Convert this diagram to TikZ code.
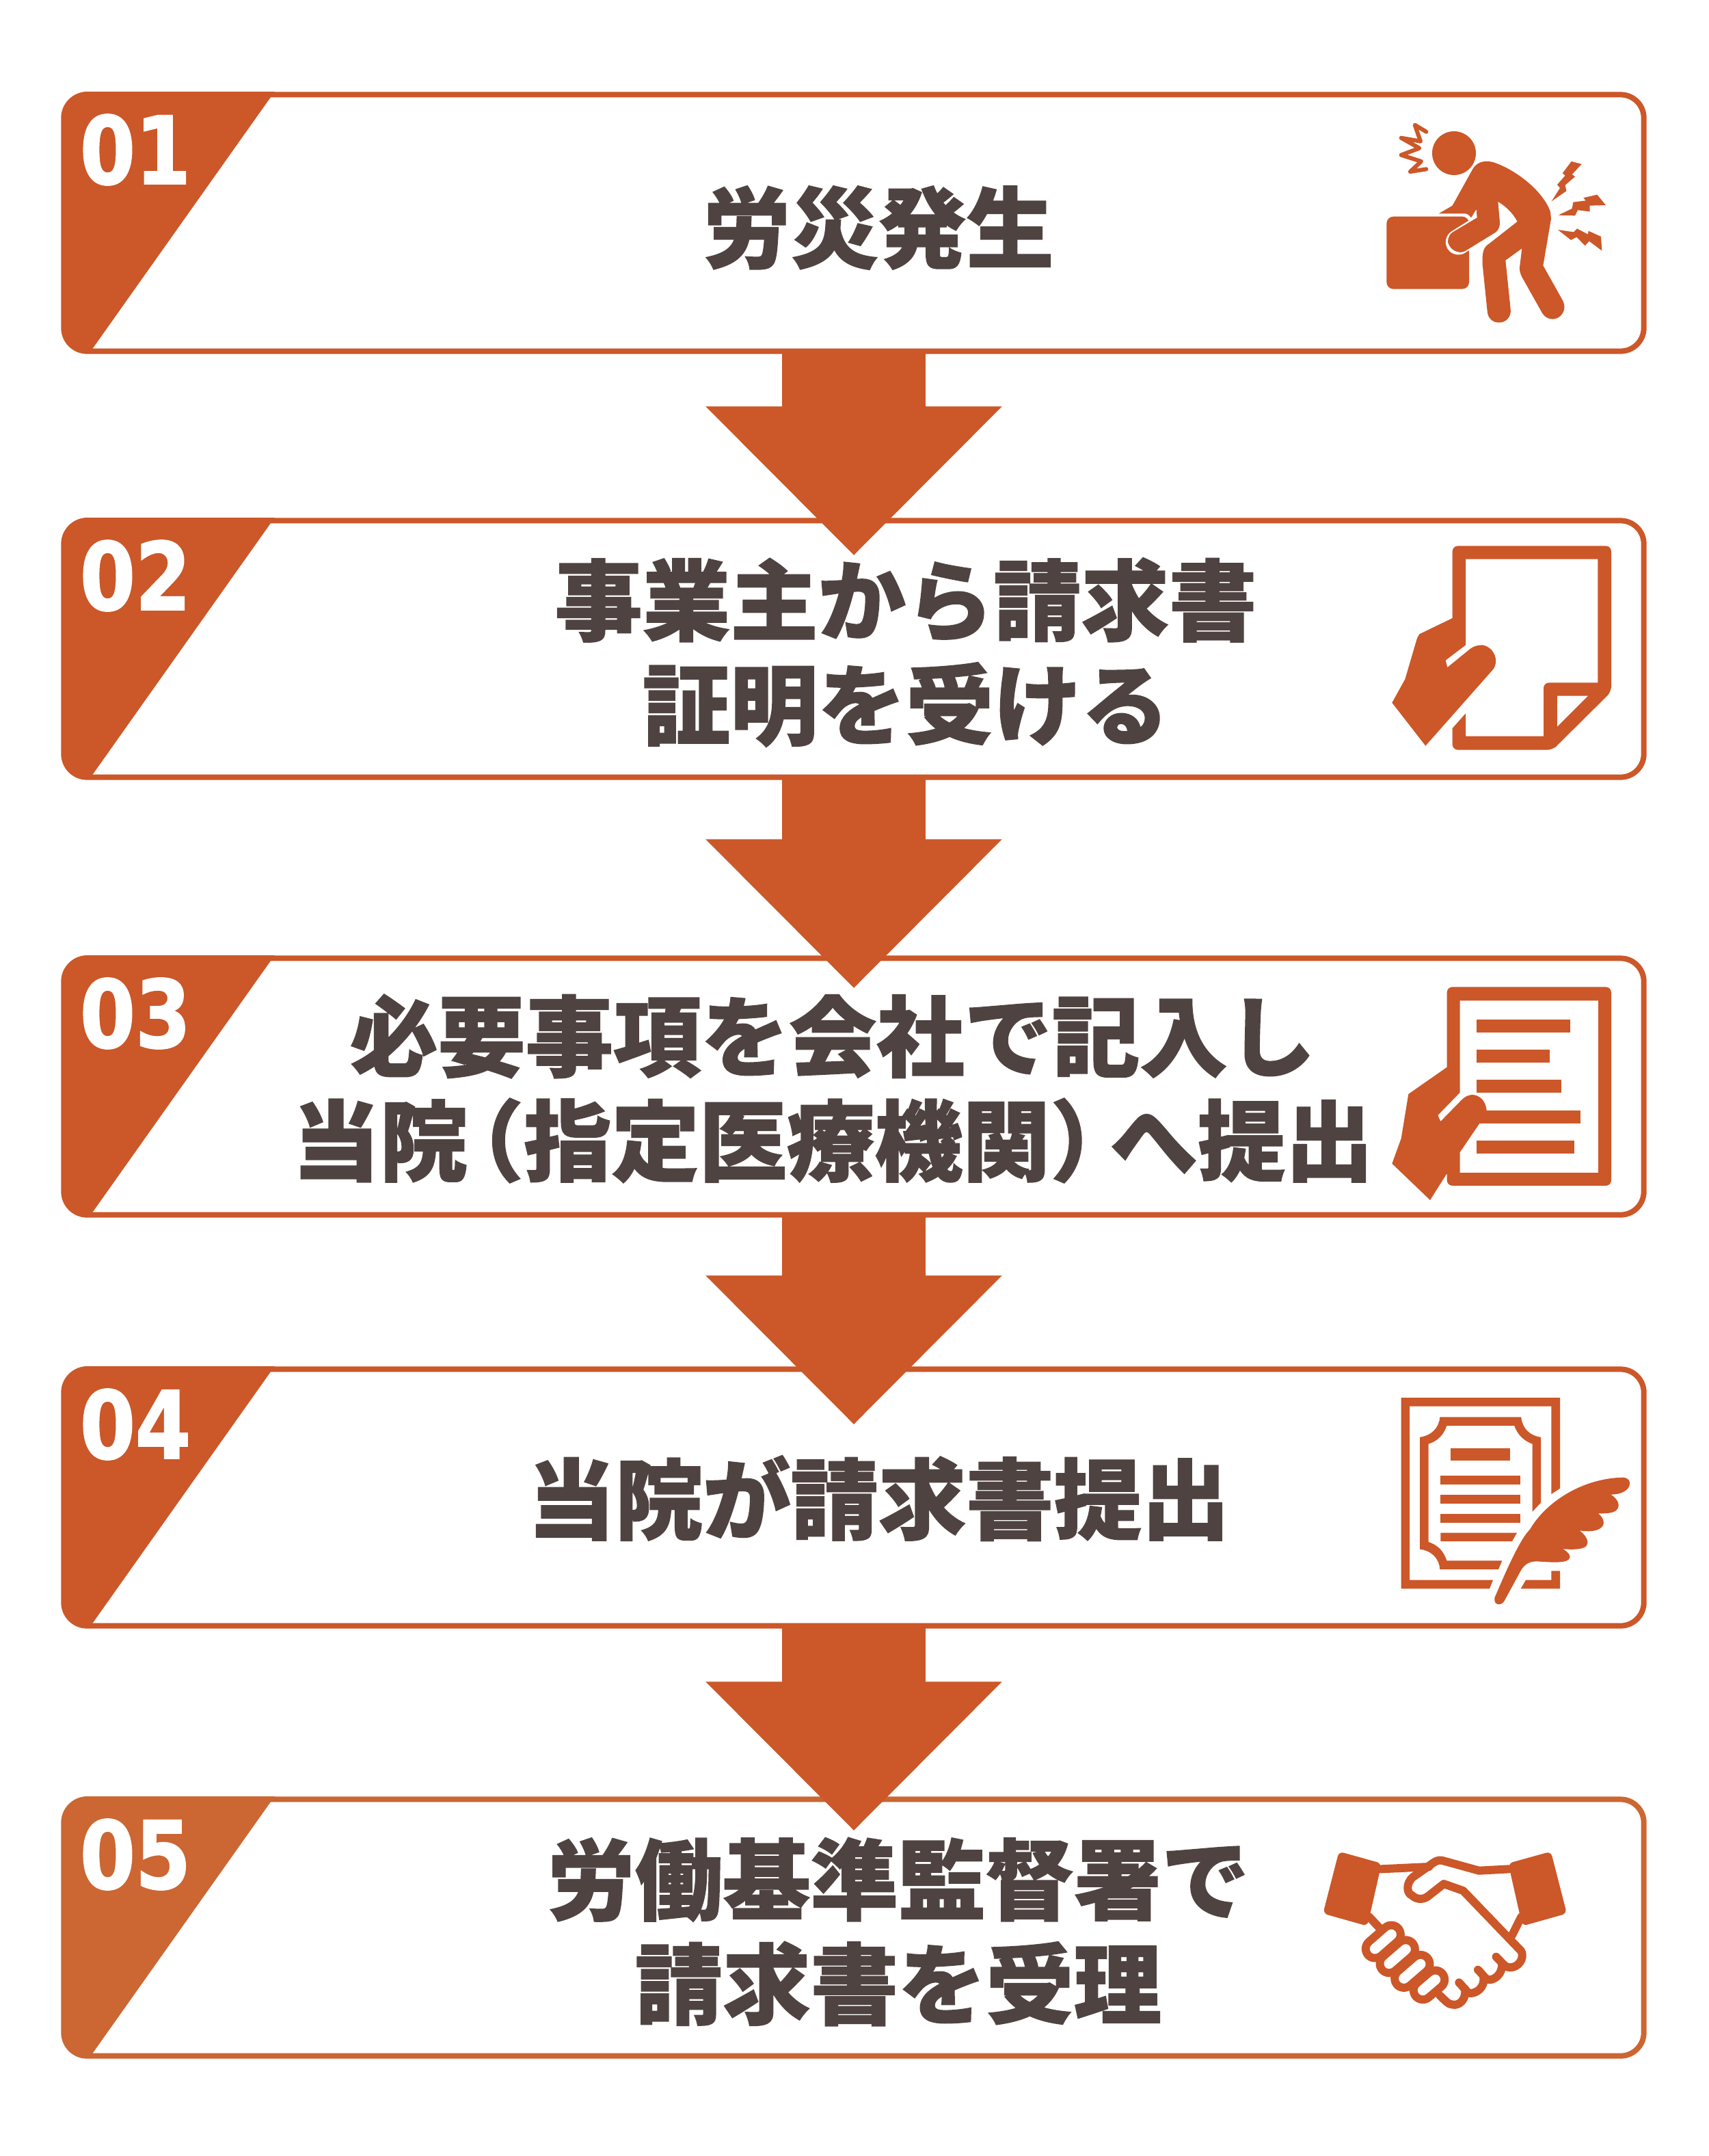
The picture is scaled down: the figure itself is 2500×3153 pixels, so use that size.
\documentclass[tikz,border=0pt]{standalone}
\usepackage{fontspec}
\usetikzlibrary{arrows.meta}
\newfontfamily\jpfont[FakeBold=1.2]{Noto Sans CJK JP Black}
\newfontfamily\numfont[FakeStretch=0.85,FakeBold=1.5]{DejaVu Sans Bold}
\definecolor{stepred}{HTML}{CC5728}
\definecolor{steplight}{HTML}{CC6632}
\definecolor{stepgray}{HTML}{4F4341}
\tikzset{
  stepbox/.style={draw, line width=.08cm, fill=white, rounded corners=.34cm, minimum width=23.1cm, minimum height=3.75cm, inner sep=0pt, outer sep=0pt},
  steplabel/.style={text=stepgray, inner sep=0pt, align=center, font=\jpfont\fontsize{36.5}{43.4}\selectfont},
  stepnum/.style={text=white, inner sep=0pt, font=\numfont\fontsize{39}{40}\selectfont},
  downarrow/.style={draw=stepred, line width=2.09cm, -{Triangle[length=2.18cm,width=4.2cm,fill=stepred]}},
  icon/.style={fill=stepred},
  iconline/.style={draw=stepred, line width=.12cm, line cap=round, line join=round}
}
\begin{document}
\begin{tikzpicture}[x=.01cm,y=-.01cm]
\useasboundingbox (0,0) rectangle (2500,3153);
\foreach \i/\y/\c in {1/134/stepred,2/757/stepred,3/1397/stepred,4/1998/stepred,5/2627/steplight}{
  \node[stepbox,draw=\c] (s\i) at (1249,\y+192) {};
  \fill[\c] (128,\y) .. controls (107,\y) and (90,\y+17) .. (90,\y+38) -- (90,\y+345) .. controls (90,\y+366) and (107,\y+383) .. (128,\y+383) -- (136,\y+375) -- (396,\y+8) -- (402,\y) -- cycle;
  \node[stepnum] (n\i) at (198,\y+85) {0\i};
}
\foreach \a/\b/\t in {1/2/.51,2/3/.44,3/4/.81,4/5/.46}{
  \draw[downarrow,shorten >=-\t cm] (s\a.south) -- (s\b.north);
}
\node[steplabel] (t1) at (1285,333) {労災発生};
\node[steplabel] (t2) at (1325,954) {事業主から請求書\\証明を受ける};
\node[steplabel] (t3) at (1218,1592) {必要事項を会社で記入し\\当院\hspace{-.36em}（指定医療機関）\hspace{-.32em}へ提出};
\node[steplabel] (t4) at (1285,2191) {当院が請求書提出};
\node[steplabel] (t5) at (1314,2825) {労働基準監督署で\\請求書を受理};
\begin{scope}[shift={(1978,150)},scale=1/3]
\fill[icon] (447,222) circle (96);
\fill[icon,rounded corners=.1cm] (151,500) rectangle (513,818);
\draw[white,line width=.37cm,line cap=round] (466,612) -- (560,553);
\fill[icon] (380,487) -- (440,452) -- (530,290) .. controls (545,265) and (575,250) .. (620,262) .. controls (720,295) and (840,390) .. (870,480) -- (873,510) -- (838,715) -- (925,870) .. controls (945,910) and (915,950) .. (880,950) .. controls (860,950) and (845,940) .. (835,925) -- (745,765) .. controls (735,745) and (733,730) .. (736,715) -- (745,640) -- (673,692) -- (695,905) .. controls (700,940) and (675,965) .. (645,965) .. controls (615,965) and (595,945) .. (593,915) -- (572,710) .. controls (570,660) and (575,635) .. (600,620) -- (725,522) .. controls (705,485) and (675,455) .. (640,435) -- (648,525) .. controls (648,550) and (640,565) .. (620,575) -- (495,652) .. controls (470,665) and (430,650) .. (420,612) .. controls (420,590) and (430,575) .. (442,568) -- (548,505) -- (545,468) -- (522,505) .. controls (510,490) and (505,487) .. (490,487) -- cycle;
\draw[iconline,line width=.06cm] (325,128) -- (275,98) -- (300,170) -- (215,155) -- (295,200) -- (215,230) -- (303,258) -- (255,303) -- (325,292);
\fill[icon] (962,258) -- (1007,270) -- (965,315) -- (978,325) -- (935,362) -- (940,388) -- (875,433) -- (912,375) -- (900,360) -- (935,320) -- (923,310) -- cycle;
\fill[icon] (1075,404) -- (1113,450) -- (1043,452) -- (1043,478) -- (990,472) -- (978,496) -- (905,494) -- (965,465) -- (970,437) -- (1025,430) -- (1015,418) -- cycle;
\fill[icon] (903,558) -- (972,568) -- (987,553) -- (1035,578) -- (1037,563) -- (1092,588) -- (1096,650) -- (1040,608) -- (1022,628) -- (985,590) -- (960,603) -- cycle;
\end{scope}
\begin{scope}[shift={(1978,770)},scale=1/3]
\fill[icon] (498,143) -- (1078,143) -- (1078,685) -- (865,685) .. controls (850,685) and (840,695) .. (840,710) -- (840,920) -- (498,920) -- (498,820) -- (440,885) [rounded corners=.08cm] -- (440,980) -- (880,980) [sharp corners] -- (890,970) [rounded corners=.08cm] -- (1137,725) -- (1137,85) -- (440,85) [sharp corners] -- (440,402) -- (295,472) -- (285,490) -- (232,670) -- (175,773) -- (322,962) -- (620,625) .. controls (645,590) and (625,530) .. (572,520) .. controls (550,520) and (535,525) .. (520,535) -- (418,618) -- (410,587) -- (498,520) -- cycle;
\fill[white] (900,743) -- (1035,743) -- (900,878) -- cycle;
\end{scope}
\begin{scope}[shift={(1978,1420)},scale=1/3]
\fill[icon,even odd rule] (416,422) [rounded corners=.08cm] -- (416,70) -- (1137,70) -- (1137,942) -- (416,942) [sharp corners] -- (416,888) -- (342,1005) -- (175,845) -- (215,735) -- (247,540) -- cycle (473,533) -- (473,130) -- (1080,130) -- (1080,885) -- (473,885) -- (473,795) -- (558,670) -- (590,610) .. controls (585,565) and (555,543) .. (525,543) .. controls (505,545) and (490,555) .. (478,568) -- (388,660) -- (376,633) -- cycle;
\foreach \ya/\xa/\xb in {212/547/956,345/547/867,478/547/918,612/550/1001,745/547/974}{
  \fill[icon] (\xa,\ya) rectangle (\xb,\ya+57);
}
\end{scope}
\begin{scope}[shift={(1998,2020)},scale=1/3]
\fill[icon] (852,470) -- (852,72) -- (155,72) -- (155,910) -- (543,910) -- (558,872) -- (192,872) -- (192,110) -- (814,110) -- (814,495) -- cycle;
\fill[icon] (814,832) -- (852,832) -- (852,910) -- (680,910) -- (702,872) -- (814,872) -- cycle;
\fill[icon] (768,533) -- (768,245) .. controls (720,240) and (685,205) .. (682,157) -- (325,157) .. controls (322,205) and (285,240) .. (237,245) -- (237,737) .. controls (285,742) and (322,775) .. (325,825) -- (582,825) -- (598,787) -- (355,787) .. controls (342,745) and (315,718) .. (275,705) -- (275,275) .. controls (315,262) and (342,235) .. (355,195) -- (652,195) .. controls (665,235) and (695,262) .. (731,275) -- (731,572) -- cycle;
\fill[icon] (372,295) rectangle (634,348);
\foreach \ya in {414,498,582}{\fill[icon] (328,\ya) rectangle (679,\ya+38);}
\fill[icon] (328,665) -- (663,665) -- (642,702) -- (328,702) -- cycle;
\fill[icon] (565,950) .. controls (600,870) and (670,700) .. (720,650) .. controls (790,530) and (950,425) .. (1130,422) .. controls (1160,425) and (1165,450) .. (1150,470) .. controls (1135,490) and (1100,497) .. (1075,497) .. controls (1105,515) and (1120,545) .. (1100,565) .. controls (1085,580) and (1050,580) .. (1020,580) .. controls (1045,600) and (1050,625) .. (1035,640) .. controls (1015,660) and (975,660) .. (938,655) .. controls (965,675) and (985,705) .. (965,725) .. controls (945,740) and (900,738) .. (865,736) .. controls (890,750) and (905,770) .. (890,782) .. controls (870,800) and (800,793) .. (750,790) .. controls (710,790) and (690,810) .. (675,840) -- (607,965) .. controls (595,985) and (560,985) .. (565,950) -- cycle;
\end{scope}
\begin{scope}[shift={(1897,2670)},scale=1/3]
\fill[icon,rounded corners=.07cm] (185,113) -- (372,165) -- (310,440) -- (115,385) -- cycle;
\fill[icon,rounded corners=.07cm] (1115,113) -- (928,165) -- (990,440) -- (1185,385) -- cycle;
\draw[iconline] (370,190) -- (580,180);
\draw[iconline] (930,190) -- (800,197) -- (640,153) .. controls (625,150) and (615,152) .. (600,162) -- (510,225) .. controls (475,255) and (485,300) .. (505,305) .. controls (525,325) and (555,325) .. (575,310) -- (645,255) -- (730,285) -- (985,550) .. controls (1000,580) and (975,622) .. (935,622) .. controls (915,622) and (905,605) .. (875,575);
\draw[iconline] (900,605) .. controls (905,650) and (865,680) .. (840,675) .. controls (825,672) and (815,650) .. (795,632);
\draw[iconline] (820,665) .. controls (825,710) and (790,735) .. (760,735) .. controls (745,732) and (730,705) .. (712,688);
\draw[iconline] (738,715) .. controls (745,760) and (715,790) .. (685,785) .. controls (665,785) and (650,765) .. (628,745);
\draw[iconline] (318,400) -- (360,445);
\draw[iconline] (985,400) -- (945,480);
\foreach \xa/\ya/\xb/\yb in {343/540/415/477,405/605/478/542,470/670/543/607,553/722/608/675}{
  \draw[stepred,line width=.39cm,line cap=round] (\xa,\ya) -- (\xb,\yb);
}
\foreach \xa/\ya/\xb/\yb in {343/540/415/477,405/605/478/542,470/670/543/607,553/722/608/675}{
  \draw[white,line width=.15cm,line cap=round] (\xa,\ya) -- (\xb,\yb);
}
\end{scope}
\end{tikzpicture}
\end{document}
